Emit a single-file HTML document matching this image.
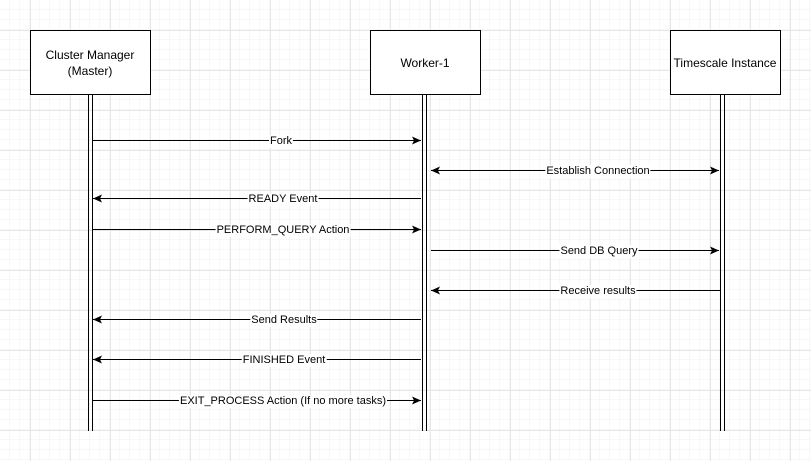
<!DOCTYPE html>
<html><head><meta charset="utf-8"><style>
html,body{margin:0;padding:0;background:#fff}
svg{display:block;position:absolute;left:0;top:0}
text{font-family:"Liberation Sans",Arial,sans-serif;font-size:12px;fill:#000}
.l{position:absolute;font-family:"Liberation Sans",Arial,sans-serif;font-size:11px;line-height:13px;background:#fff;transform:translateX(-50%);white-space:nowrap;padding:0 1px}
</style></head><body>
<svg width="811" height="461" viewBox="0 0 811 461" xmlns="http://www.w3.org/2000/svg">
<defs>
<pattern id="g" width="10" height="10" patternUnits="userSpaceOnUse"><path d="M10 0V10M0 10H10" stroke="#f2f2f2" stroke-width="1" fill="none"/></pattern>
<pattern id="G" x="30" y="30" width="40" height="40" patternUnits="userSpaceOnUse"><path d="M0.5 0V40M0 0.5H40" stroke="#e6e6e6" stroke-width="1" fill="none"/></pattern>
<marker id="a" markerWidth="10" markerHeight="8" refX="9" refY="4" orient="auto" markerUnits="userSpaceOnUse"><path d="M0 0L9 4L0 8L2 4Z" fill="#000"/></marker>
<marker id="b" markerWidth="10" markerHeight="8" refX="1" refY="4" orient="auto" markerUnits="userSpaceOnUse"><path d="M10 0L1 4L10 8L8 4Z" fill="#000"/></marker>
</defs>
<rect width="811" height="461" fill="url(#g)"/>
<rect width="811" height="461" fill="url(#G)"/>
<g stroke="#000" stroke-width="1" fill="#fff">
<rect x="30.5" y="30.5" width="120" height="64"/>
<rect x="370.5" y="30.5" width="110" height="64"/>
<rect x="670.5" y="30.5" width="110" height="64"/>
</g>
<g stroke="#000" stroke-width="1">
<line x1="88.5" y1="95" x2="88.5" y2="431"/><line x1="92.5" y1="95" x2="92.5" y2="431"/>
<line x1="422.5" y1="95" x2="422.5" y2="431"/><line x1="426.5" y1="95" x2="426.5" y2="431"/>
<line x1="720.5" y1="95" x2="720.5" y2="431"/><line x1="724.5" y1="95" x2="724.5" y2="431"/>
</g>
<text x="90" y="59" text-anchor="middle">Cluster Manager</text>
<text x="90" y="75" text-anchor="middle">(Master)</text>
<text x="425" y="67" text-anchor="middle">Worker-1</text>
<text x="725" y="67" text-anchor="middle">Timescale Instance</text>
<g stroke="#000" stroke-width="1" fill="none">
<line x1="93" y1="140.5" x2="421" y2="140.5" marker-end="url(#a)"/>
<line x1="431" y1="170.5" x2="719" y2="170.5" marker-end="url(#a)" marker-start="url(#b)"/>
<line x1="421" y1="198.5" x2="93" y2="198.5" marker-end="url(#a)"/>
<line x1="93" y1="229.5" x2="421" y2="229.5" marker-end="url(#a)"/>
<line x1="431" y1="250.5" x2="719" y2="250.5" marker-end="url(#a)"/>
<line x1="720" y1="290.5" x2="431" y2="290.5" marker-end="url(#a)"/>
<line x1="421" y1="319.5" x2="93" y2="319.5" marker-end="url(#a)"/>
<line x1="421" y1="359.5" x2="93" y2="359.5" marker-end="url(#a)"/>
<line x1="93" y1="400.5" x2="421" y2="400.5" marker-end="url(#a)"/>
</g>
</svg>
<span class="l" style="left:281px;top:135px">Fork</span>
<span class="l" style="left:598px;top:165px">Establish Connection</span>
<span class="l" style="left:283px;top:193px">READY Event</span>
<span class="l" style="left:283px;top:224px">PERFORM_QUERY Action</span>
<span class="l" style="left:599px;top:245px">Send DB Query</span>
<span class="l" style="left:598px;top:285px">Receive results</span>
<span class="l" style="left:284px;top:314px">Send Results</span>
<span class="l" style="left:284px;top:354px">FINISHED Event</span>
<span class="l" style="left:283px;top:395px">EXIT_PROCESS Action (If no more tasks)</span>
</body></html>
